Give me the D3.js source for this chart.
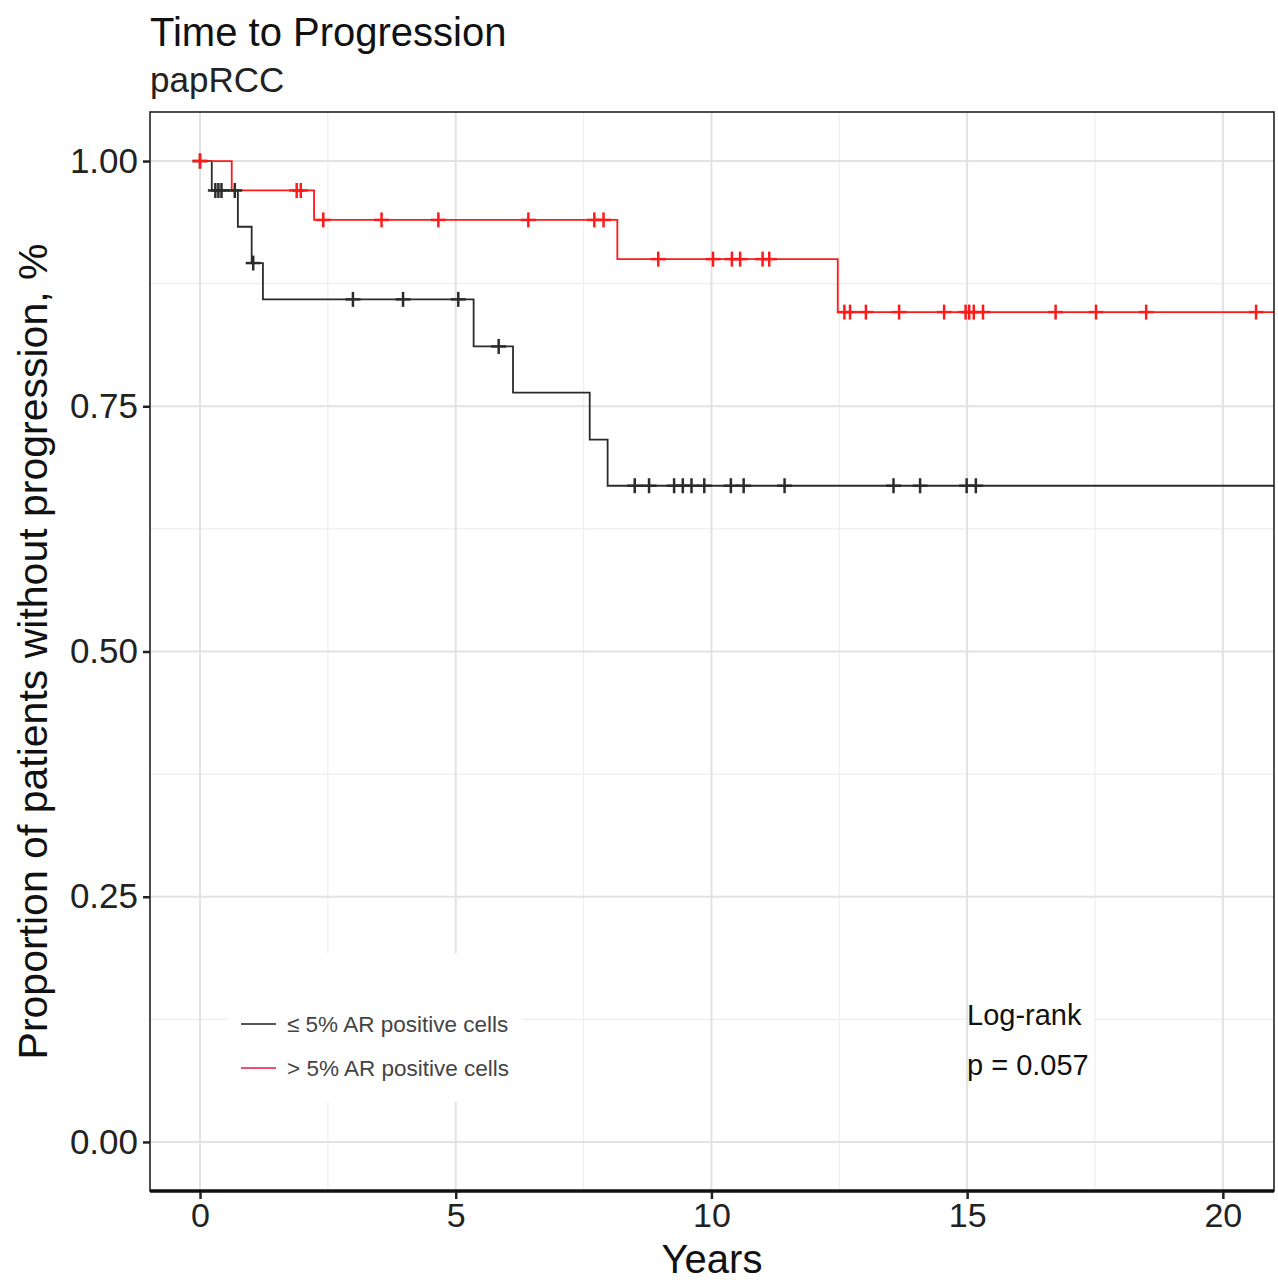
<!DOCTYPE html>
<html>
<head>
<meta charset="utf-8">
<script src="https://cdn.jsdelivr.net/npm/d3@7"></script>
<style>
  body { margin: 0; background: #fff; }
  text { font-family: "Liberation Sans", Arial, sans-serif; }
</style>
</head>
<body>
<div id="chart"></div>
<script>
const width = 1278;
const height = 1282;
const panel = { left: 150, right: 1274, top: 112, bottom: 1191 };

// ≤ 5% AR positive cells (black)
const lowTimes = [0, 0.23, 0.74, 1.01, 1.23, 5.35, 6.12, 7.62, 7.97, 21.0];
const lowSurv  = [1.0, 0.970, 0.933, 0.896, 0.859, 0.811, 0.764, 0.716, 0.669, 0.669];
const lowCensor = [0, 0.30, 0.36, 0.42, 0.68, 1.04, 2.99, 3.97, 5.05, 5.84,
  8.50, 8.78, 9.27, 9.44, 9.61, 9.86, 10.38, 10.63, 11.43, 13.56, 14.08, 14.99, 15.17];

// > 5% AR positive cells (red)
const highTimes = [0, 0.62, 2.23, 8.16, 12.47, 21.0];
const highSurv  = [1.0, 0.970, 0.940, 0.900, 0.846, 0.846];
const highCensor = [0, 1.89, 1.97, 2.41, 3.55, 4.66, 6.42, 7.71, 7.89,
  8.96, 10.03, 10.40, 10.56, 11.00, 11.13,
  12.60, 12.71, 13.02, 13.67, 14.55, 14.97, 15.04, 15.13, 15.31, 16.73, 17.52, 18.50, 20.65];

const xTicks = [0, 5, 10, 15, 20];
const xMinor = [2.5, 7.5, 12.5, 17.5];
const yTicks = [0, 0.25, 0.5, 0.75, 1.0];
const yMinor = [0.125, 0.375, 0.625, 0.875];

const legendLabels = ["\u2264 5% AR positive cells", "> 5% AR positive cells"];
const colors = ["#2b2b2b", "#ff1a1a"];

const x = d3.scaleLinear().domain([-0.978, 21.0]).range([panel.left, panel.right]);
const y = d3.scaleLinear().domain([-0.05, 1.05]).range([panel.bottom, panel.top]);

const svg = d3.select("#chart").append("svg")
  .attr("width", width)
  .attr("height", height);

// gridlines
const grid = svg.append("g");
grid.selectAll(".xminor").data(xMinor).enter().append("line")
  .attr("x1", d => x(d)).attr("x2", d => x(d))
  .attr("y1", panel.top).attr("y2", panel.bottom)
  .attr("stroke", "#eeeeee").attr("stroke-width", 1.2);
grid.selectAll(".yminor").data(yMinor).enter().append("line")
  .attr("y1", d => y(d)).attr("y2", d => y(d))
  .attr("x1", panel.left).attr("x2", panel.right)
  .attr("stroke", "#eeeeee").attr("stroke-width", 1.2);
grid.selectAll(".xmajor").data(xTicks).enter().append("line")
  .attr("x1", d => x(d)).attr("x2", d => x(d))
  .attr("y1", panel.top).attr("y2", panel.bottom)
  .attr("stroke", "#e2e2e2").attr("stroke-width", 2);
grid.selectAll(".ymajor").data(yTicks).enter().append("line")
  .attr("y1", d => y(d)).attr("y2", d => y(d))
  .attr("x1", panel.left).attr("x2", panel.right)
  .attr("stroke", "#e2e2e2").attr("stroke-width", 2);

// white boxes behind legend and annotation
svg.append("rect").attr("x", 228).attr("y", 953).attr("width", 294).attr("height", 149).attr("fill", "#fff");
svg.append("rect").attr("x", 969).attr("y", 995).attr("width", 124).attr("height", 95).attr("fill", "#fff");

// curves
const line = d3.line().curve(d3.curveStepAfter).x(d => x(d[0])).y(d => y(d[1]));
const series = [
  { times: lowTimes, surv: lowSurv, censor: lowCensor, color: colors[0] },
  { times: highTimes, surv: highSurv, censor: highCensor, color: colors[1] }
];

function survAt(s, t) {
  let v = s.surv[0];
  for (let i = 0; i < s.times.length; i++) {
    if (s.times[i] <= t) v = s.surv[i];
  }
  return v;
}

series.forEach(s => {
  svg.append("path")
    .datum(d3.zip(s.times, s.surv))
    .attr("d", line)
    .attr("fill", "none")
    .attr("stroke", s.color)
    .attr("stroke-width", 1.8);
});

series.forEach(s => {
  const g = svg.append("g");
  const pts = g.selectAll("g").data(s.censor).enter().append("g")
    .attr("transform", d => `translate(${x(d)},${y(survAt(s, d))})`);
  pts.append("line").attr("x1", -7.5).attr("x2", 7.5).attr("y1", 0).attr("y2", 0)
    .attr("stroke", s.color).attr("stroke-width", 2.5);
  pts.append("line").attr("x1", 0).attr("x2", 0).attr("y1", -7.5).attr("y2", 7.5)
    .attr("stroke", s.color).attr("stroke-width", 2.5);
});

// panel border
svg.append("rect")
  .attr("x", panel.left).attr("y", panel.top)
  .attr("width", panel.right - panel.left).attr("height", panel.bottom - panel.top)
  .attr("fill", "none").attr("stroke", "#222").attr("stroke-width", 1.6);
svg.append("line")
  .attr("x1", panel.left).attr("x2", panel.right)
  .attr("y1", panel.bottom).attr("y2", panel.bottom)
  .attr("stroke", "#111").attr("stroke-width", 3.5);

// axes
const yAxis = svg.append("g")
  .attr("transform", `translate(${panel.left},0)`)
  .call(d3.axisLeft(y).tickValues(yTicks).tickFormat(d3.format(".2f")).tickSize(7).tickPadding(5));
const xAxis = svg.append("g")
  .attr("transform", `translate(0,${panel.bottom + 1})`)
  .call(d3.axisBottom(x).tickValues(xTicks).tickSize(7).tickPadding(4));
[xAxis, yAxis].forEach(a => {
  a.select(".domain").remove();
  a.selectAll(".tick line").attr("stroke", "#222").attr("stroke-width", 2.5);
  a.selectAll(".tick text").attr("fill", "#222").style("font-size", "34px")
    .style("font-family", "'Liberation Sans', Arial, sans-serif");
});
yAxis.selectAll(".tick text").style("font-size", "35px");

// titles
svg.append("text").attr("x", 150).attr("y", 46)
  .style("font-size", "40px").attr("fill", "#111").text("Time to Progression");
svg.append("text").attr("x", 150).attr("y", 92)
  .style("font-size", "35px").attr("fill", "#222").text("papRCC");
svg.append("text").attr("x", (panel.left + panel.right) / 2).attr("y", 1273)
  .attr("text-anchor", "middle").style("font-size", "40px").attr("fill", "#111").text("Years");
svg.append("text")
  .attr("transform", `translate(47,${(panel.top + panel.bottom) / 2}) rotate(-90)`)
  .attr("text-anchor", "middle").style("font-size", "41px").attr("fill", "#111")
  .text("Proportion of patients without progression, %");

// legend
const legendY = [1024, 1068];
const legend = svg.append("g");
legendLabels.forEach((lab, i) => {
  legend.append("line")
    .attr("x1", 241).attr("x2", 276)
    .attr("y1", legendY[i]).attr("y2", legendY[i])
    .attr("stroke", i === 0 ? "#555" : "#f0506e").attr("stroke-width", 1.8);
  legend.append("text")
    .attr("x", 287).attr("y", legendY[i] + 8)
    .style("font-size", "22.5px").attr("fill", "#444").text(lab);
});

// annotation
svg.append("text").attr("x", 967).attr("y", 1025)
  .style("font-size", "29px").attr("fill", "#111").text("Log-rank");
svg.append("text").attr("x", 967).attr("y", 1075)
  .style("font-size", "29px").attr("fill", "#111").text("p = 0.057");
</script>
</body>
</html>
